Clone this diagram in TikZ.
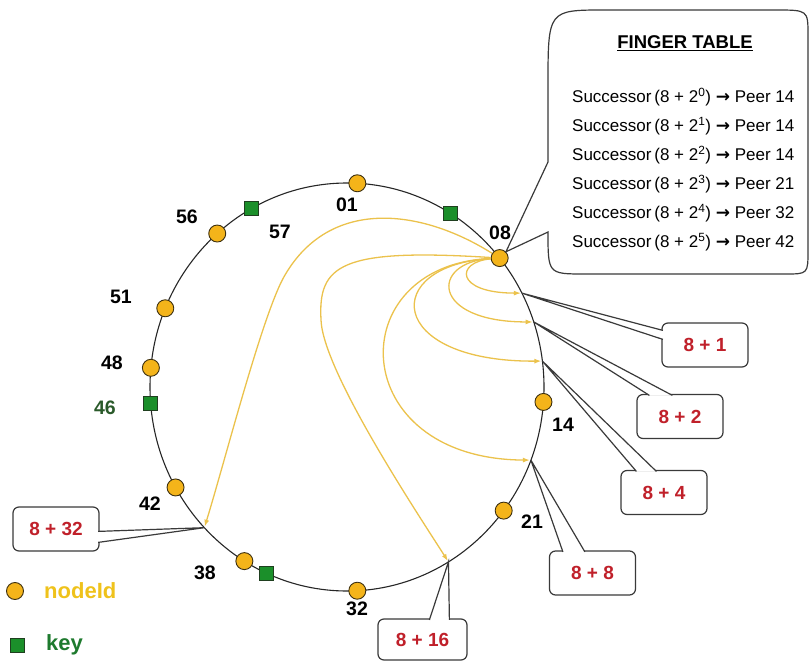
\documentclass[tikz,border=0pt]{standalone}
\usepackage{fontspec}
\setmainfont{Liberation Sans}
\newfontfamily\arrowfont{DejaVu Sans}
\usetikzlibrary{calc,arrows.meta}
\definecolor{peerfill}{HTML}{F4B41A}
\definecolor{peerline}{HTML}{3D3010}
\definecolor{keyfill}{HTML}{1B8F2A}
\definecolor{keyline}{HTML}{1F3F1F}
\definecolor{arrowc}{HTML}{EBC24C}
\definecolor{boxline}{HTML}{3A3A3A}
\definecolor{boxred}{HTML}{C0202A}
\definecolor{legy}{HTML}{EFC21B}
\definecolor{legg}{HTML}{1E7A2E}
\definecolor{darkg}{HTML}{2A5A2A}
\newcommand\farr{{\arrowfont\bfseries →}}
\begin{document}
\begin{tikzpicture}[x=1pt,y=-1pt,
  ring/.style={draw=black!85, line width=1.1pt},
  peer/.style={circle, draw=peerline, fill=peerfill, minimum size=17pt, inner sep=0pt, line width=0.9pt},
  keysq/.style={rectangle, draw=keyline, fill=keyfill, minimum size=14pt, inner sep=0pt, line width=0.8pt},
  lbl/.style={font=\fontsize{19.5}{19.5}\selectfont\bfseries, text=black, inner sep=0pt},
  fbox/.style={draw=boxline, line width=1.2pt, rounded corners=6pt, fill=white, minimum width=86pt, minimum height=44pt, inner sep=0pt, font=\fontsize{19}{19}\selectfont\bfseries, text=boxred},
  cl/.style={draw=boxline, line width=1.2pt},
  fing/.style={draw=arrowc, line width=1.3pt, -{Latex[length=7pt,width=5pt]}, shorten >=1pt},
  rowtxt/.style={font=\fontsize{17}{17}\selectfont, anchor=west, inner sep=0pt},
  legtxt/.style={font=\fontsize{22}{22}\selectfont\bfseries, anchor=west, inner sep=0pt}
]
\useasboundingbox (0,0) rectangle (809,661);
\coordinate (C) at (347,387);
\draw[ring] (C) ellipse [x radius=197pt, y radius=204pt];

% points where the fingers land
\coordinate (t1) at ([shift={(27.4:197pt and 204pt)}]C);
\coordinate (t2) at ([shift={(18.6:197pt and 204pt)}]C);
\coordinate (t4) at ([shift={(7.3:197pt and 204pt)}]C);
\coordinate (t8) at ([shift={(-21:197pt and 204pt)}]C);
\coordinate (t16) at ([shift={(-59:197pt and 204pt)}]C);
\coordinate (t32) at ([shift={(-136.4:197pt and 204pt)}]C);

% keys
\node[keysq] (k05) at ([shift={(58.2:197pt and 204pt)}]C) {};
\node[keysq] (k36) at ([shift={(-114.1:197pt and 204pt)}]C) {};
\node[keysq] (k46) at ([shift={(184.5:197pt and 204pt)}]C) {};
\node[keysq] (k57) at ([shift={(119:197pt and 204pt)}]C) {};

% peers
\node[peer] (n01) at ([shift={(87:197pt and 204pt)}]C) {};
\node[peer] (n08) at ([shift={(39.2:197pt and 204pt)}]C) {};
\node[peer] (n14) at ([shift={(-4.2:197pt and 204pt)}]C) {};
\node[peer] (n21) at ([shift={(-37.3:197pt and 204pt)}]C) {};
\node[peer] (n32) at ([shift={(-87:197pt and 204pt)}]C) {};
\node[peer] (n38) at ([shift={(-121.4:197pt and 204pt)}]C) {};
\node[peer] (n42) at ([shift={(-150.5:197pt and 204pt)}]C) {};
\node[peer] (n48) at ([shift={(174.6:197pt and 204pt)}]C) {};
\node[peer] (n51) at ([shift={(157.3:197pt and 204pt)}]C) {};
\node[peer] (n56) at ([shift={(131.2:197pt and 204pt)}]C) {};

% labels
\node[lbl] (l01) at (347,205) {01};
\node[lbl] (l08) at (500,233) {08};
\node[lbl] (l14) at (563,425) {14};
\node[lbl] (l21) at (532,522) {21};
\node[lbl] (l32) at (357,609) {32};
\node[lbl] (l38) at (205,573) {38};
\node[lbl] (l42) at (150,504) {42};
\node[lbl, text=darkg] (l46) at (105,408) {46};
\node[lbl] (l48) at (112,363) {48};
\node[lbl] (l51) at (121,297) {51};
\node[lbl] (l56) at (187,217) {56};
\node[lbl] (l57) at (280,232) {57};

% finger table callout
\coordinate (ftA) at (548,162);
\coordinate (ftB) at (548,232);
\draw[cl, fill=white] (ftA) -- (548,85) .. controls (548,10) .. (605,10) -- (775,10)
  .. controls (808,10) .. (808,35) -- (808,250) .. controls (808,274) .. (785,274)
  -- (585,274) .. controls (548,274) .. (ftB) -- (n08.45) -- cycle;
\node[font=\fontsize{18.5}{18.5}\selectfont\bfseries, inner sep=0pt] (ftt) at (685,43) {\underline{FINGER TABLE}};
\node[rowtxt] (r0) at (572,97) {Successor\,(8 + 2\textsuperscript{0}) \farr{} Peer 14};
\node[rowtxt] (r1) at (572,126) {Successor\,(8 + 2\textsuperscript{1}) \farr{} Peer 14};
\node[rowtxt] (r2) at (572,155) {Successor\,(8 + 2\textsuperscript{2}) \farr{} Peer 14};
\node[rowtxt] (r3) at (572,184) {Successor\,(8 + 2\textsuperscript{3}) \farr{} Peer 21};
\node[rowtxt] (r4) at (572,213) {Successor\,(8 + 2\textsuperscript{4}) \farr{} Peer 32};
\node[rowtxt] (r5) at (572,242) {Successor\,(8 + 2\textsuperscript{5}) \farr{} Peer 42};

% value boxes
\node[fbox] (b1) at (705,345) {8 + 1};
\node[fbox] (b2) at (680,416.5) {8 + 2};
\node[fbox] (b4) at (664,492.5) {8 + 4};
\node[fbox] (b8) at (592.5,573) {8 + 8};
\node[fbox, minimum width=89pt, minimum height=41pt] (b16) at (422.5,639.5) {8 + 16};
\node[fbox] (b32) at (56,529) {8 + 32};

\coordinate (b1a) at ($(b1.north west)+(1.5,8)$);
\coordinate (b1b) at ($(b1.north west)+(1.5,17)$);
\coordinate (b2a) at ($(b2.north west)+(13,1.5)$);
\coordinate (b2b) at ($(b2.north west)+(36,1.5)$);
\coordinate (b4a) at ($(b4.north west)+(16,1.5)$);
\coordinate (b4b) at ($(b4.north west)+(36,1.5)$);
\coordinate (b8a) at ($(b8.north west)+(14,1.5)$);
\coordinate (b8b) at ($(b8.north west)+(36,1.5)$);
\coordinate (b16a) at ($(b16.north west)+(52,1.5)$);
\coordinate (b16b) at ($(b16.north west)+(72,1.5)$);
\coordinate (b32a) at ($(b32.north east)+(-1.5,25)$);
\coordinate (b32b) at ($(b32.north east)+(-1.5,36)$);

\foreach \b/\t in {b1/t1,b2/t2,b4/t4,b8/t8,b16/t16,b32/t32}{
  \fill[white] (\b a) -- (\t) -- (\b b) -- cycle;
  \draw[cl] (\b a) -- (\t) -- (\b b);
}

% fingers
\draw[fing] (n08) .. controls (455,262) and (455,293) .. (t1);
\draw[fing] (n08) .. controls (430,262) and (430,322) .. (t2);
\draw[fing] (n08) .. controls (380,265) and (385,362) .. (t4);
\draw[fing] (n08) .. controls (340,265) and (345,459) .. (t8);
\draw[fing] (n08) .. controls (340,248) and (318,265) .. (321,320) .. controls (323,370) and (412,505) .. (t16);
\draw[fing] (n08) .. controls (420,208) and (330,198) .. (285,275) .. controls (263,312) and (225,461) .. (t32);

% legend
\node[peer] (lgc) at (15,591) {};
\node[legtxt, text=legy] (lgt) at (44,591) {nodeId};
\node[keysq] (lgk) at (17,645) {};
\node[legtxt, text=legg] (lgkt) at (46,645) {key};
\end{tikzpicture}
\end{document}
